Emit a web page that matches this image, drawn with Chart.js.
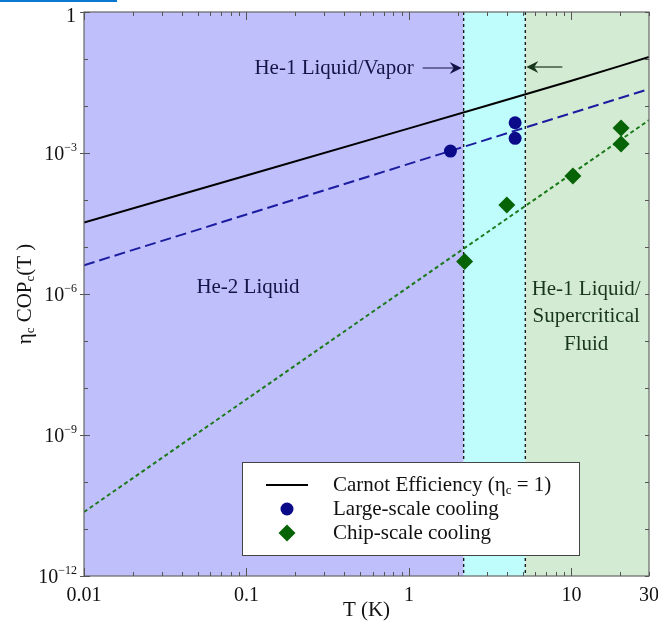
<!DOCTYPE html>
<html><head><meta charset="utf-8">
<script src="https://cdn.jsdelivr.net/npm/chart.js@4.4.0/dist/chart.umd.min.js"></script>
<style>
html,body{margin:0;padding:0;background:#fff;}
#bar{position:absolute;left:0;top:0;width:117px;height:2px;background:#0a78d0;}
canvas{display:block;}
</style>
</head><body><div id="bar"></div><canvas id="c" width="658" height="634"></canvas>
<script>
// ---- data ----
const carnotT   = [0.01, 0.1, 1, 3, 10, 20, 30];
const carnotCOP = [3.33e-5, 3.33e-4, 3.34e-3, 1.01e-2, 3.45e-2, 7.14e-2, 0.111];
const largeFitT   = [0.01, 30];
const largeFitCOP = [4.1e-6, 2.3e-2];
const chipFitT    = [0.01, 30];
const chipFitCOP  = [2.3e-11, 5.0e-3];
const largeT   = [1.8, 4.5, 4.5];
const largeCOP = [1.1e-3, 4.4e-3, 2.05e-3];
const chipT    = [2.2, 4.0, 10.2, 20.2, 20.2];
const chipCOP  = [4.9e-6, 7.8e-5, 3.25e-4, 3.4e-3, 1.55e-3];
const phaseBounds = [0.01, 2.17, 5.2, 30];
const xTickValues = [0.01, 0.1, 1, 10, 30];
const xTickLabels = ['0.01', '0.1', '1', '10', '30'];
const yTickExps   = [0, -3, -6, -9, -12];
const legendLabels = ['Carnot Efficiency', 'Large-scale cooling', 'Chip-scale cooling'];

const pts = (xs, ys) => xs.map((v, i) => ({x: v, y: ys[i]}));
const SERIF = '"Liberation Serif", "Times New Roman", serif';

function drawRich(ctx, parts, x, y, align, size, color) {
  const small = Math.round(size * 0.62);
  let w = 0;
  const m = parts.map(p => {
    ctx.font = (p[1] ? small : size) + 'px ' + SERIF;
    const pw = ctx.measureText(p[0]).width; w += pw; return pw;
  });
  let cx = align === 'right' ? x - w : align === 'center' ? x - w / 2 : x;
  ctx.fillStyle = color; ctx.textAlign = 'left'; ctx.textBaseline = 'middle';
  parts.forEach((p, i) => {
    ctx.font = (p[1] ? small : size) + 'px ' + SERIF;
    const dy = p[1] === 'sub' ? size * 0.25 : p[1] === 'sup' ? -size * 0.36 : 0;
    ctx.fillText(p[0], cx, y + dy);
    cx += m[i];
  });
}

function arrow(ctx, x0, x1, y, color) {
  const dir = Math.sign(x1 - x0);
  ctx.strokeStyle = color; ctx.fillStyle = color; ctx.lineWidth = 1.2; ctx.setLineDash([]);
  ctx.beginPath(); ctx.moveTo(x0, y); ctx.lineTo(x1 - dir * 6, y); ctx.stroke();
  ctx.beginPath();
  ctx.moveTo(x1, y);
  ctx.lineTo(x1 - dir * 12, y - 6);
  ctx.lineTo(x1 - dir * 8, y);
  ctx.lineTo(x1 - dir * 12, y + 6);
  ctx.closePath(); ctx.fill();
}

const deco = {
  id: 'deco',
  beforeDatasetsDraw(chart) {
    const {ctx, chartArea: a, scales: {x, y}} = chart;
    ctx.save();
    const fills = ['#bfbffb', '#bffdfd', '#d3ead3'];
    for (let i = 0; i < 3; i++) {
      const x0 = x.getPixelForValue(phaseBounds[i]), x1 = x.getPixelForValue(phaseBounds[i + 1]);
      ctx.fillStyle = fills[i];
      ctx.fillRect(x0, a.top, x1 - x0, a.bottom - a.top);
    }
    ctx.setLineDash([3, 3]); ctx.lineWidth = 1.4; ctx.strokeStyle = '#1a1a1a';
    [phaseBounds[1], phaseBounds[2]].forEach(v => {
      const px = x.getPixelForValue(v);
      ctx.beginPath(); ctx.moveTo(px, a.top); ctx.lineTo(px, a.bottom); ctx.stroke();
    });
    ctx.setLineDash([]);
    const lam = x.getPixelForValue(phaseBounds[1]);
    const crit = x.getPixelForValue(phaseBounds[2]);
    const navy = '#141447', dgreen = '#17361b';
    drawRich(ctx, [['He-1 Liquid/Vapor']], lam - 50, a.top + 56, 'right', 21, navy);
    arrow(ctx, lam - 41, lam - 2, a.top + 56, navy);
    arrow(ctx, crit + 37, crit + 1, a.top + 55, dgreen);
    drawRich(ctx, [['He-2 Liquid']], a.left + 164, a.top + 275, 'center', 21, navy);
    const cx = (crit + a.right) / 2 - 1;
    drawRich(ctx, [['He-1 Liquid/']], cx, a.top + 277, 'center', 21, dgreen);
    drawRich(ctx, [['Supercritical']], cx, a.top + 304, 'center', 21, dgreen);
    drawRich(ctx, [['Fluid']], cx, a.top + 332, 'center', 21, dgreen);
    ctx.restore();
  },
  afterDatasetsDraw(chart) {
    const {ctx, chartArea: a, scales: {x, y}} = chart;
    const ds = chart.data.datasets;
    ctx.save();
    // legend
    const L = 242, T = 462, W = 337, H = 93;
    ctx.fillStyle = '#fff'; ctx.fillRect(L, T, W, H);
    ctx.strokeStyle = '#444'; ctx.lineWidth = 1; ctx.strokeRect(L + 0.5, T + 0.5, W, H);
    const rows = [T + 23, T + 47, T + 71];
    ctx.strokeStyle = ds[0].borderColor; ctx.lineWidth = 2;
    ctx.beginPath(); ctx.moveTo(L + 24, rows[0]); ctx.lineTo(L + 66, rows[0]); ctx.stroke();
    ctx.fillStyle = ds[3].backgroundColor; ctx.beginPath(); ctx.arc(L + 45, rows[1], ds[3].pointRadius, 0, Math.PI * 2); ctx.fill();
    ctx.fillStyle = ds[4].backgroundColor; ctx.beginPath();
    const r = ds[4].pointRadius, dx = L + 45, dy = rows[2];
    ctx.moveTo(dx - r, dy); ctx.lineTo(dx, dy - r); ctx.lineTo(dx + r, dy); ctx.lineTo(dx, dy + r); ctx.closePath(); ctx.fill();
    drawRich(ctx, [[legendLabels[0] + ' (\u03b7'], ['c', 'sub'], [' = 1)']], L + 91, rows[0], 'left', 21, '#111');
    drawRich(ctx, [[legendLabels[1]]], L + 91, rows[1], 'left', 21, '#111');
    drawRich(ctx, [[legendLabels[2]]], L + 91, rows[2], 'left', 21, '#111');
    // border
    ctx.strokeStyle = '#666'; ctx.lineWidth = 1.2;
    ctx.strokeRect(a.left, a.top, a.right - a.left, a.bottom - a.top);
    // x ticks
    ctx.strokeStyle = '#555'; ctx.lineWidth = 1;
    for (let e = -2; e <= 1; e++) {
      for (let k = 1; k <= 9; k++) {
        const v = k * Math.pow(10, e);
        if (v < 0.01 || v > 30) continue;
        const px = Math.round(x.getPixelForValue(v)) + 0.5;
        const len = k === 1 ? 8 : 4;
        ctx.beginPath();
        ctx.moveTo(px, a.bottom); ctx.lineTo(px, a.bottom - len);
        ctx.moveTo(px, a.top); ctx.lineTo(px, a.top + len);
        ctx.stroke();
      }
    }
    // y ticks
    for (let e = -12; e <= 0; e++) {
      const py = Math.round(y.getPixelForValue(Math.pow(10, e))) + 0.5;
      const major = e % 3 === 0;
      ctx.beginPath();
      ctx.moveTo(a.left - (major ? 4 : 0), py); ctx.lineTo(a.left + (major ? 6 : 4), py);
      ctx.moveTo(a.right, py); ctx.lineTo(a.right - 4, py);
      ctx.stroke();
    }
    // tick labels
    xTickValues.forEach((v, i) => {
      drawRich(ctx, [[xTickLabels[i]]], x.getPixelForValue(v), a.bottom + 20, 'center', 20, '#111');
    });
    yTickExps.forEach(e => {
      const py = y.getPixelForValue(Math.pow(10, e));
      if (e === 0) drawRich(ctx, [['1']], a.left - 8, py + 5, 'right', 20, '#111');
      else drawRich(ctx, [['10'], ['\u2212' + (-e), 'sup']], a.left - 7, py + 2, 'right', 20, '#111');
    });
    // axis titles
    drawRich(ctx, [['T (K)']], (a.left + a.right) / 2, a.bottom + 34, 'center', 21, '#111');
    ctx.translate(25, (a.top + a.bottom) / 2);
    ctx.rotate(-Math.PI / 2);
    drawRich(ctx, [['\u03b7'], ['c', 'sub'], [' COP'], ['c', 'sub'], ['(T )']], 0, 0, 'center', 21, '#111');
    ctx.restore();
  }
};

new Chart(document.getElementById('c'), {
  type: 'scatter',
  data: {
    datasets: [
      {label: legendLabels[0], data: pts(carnotT, carnotCOP), showLine: true, borderColor: '#000', borderWidth: 2, pointRadius: 0, order: 3},
      {label: 'Large-scale fit', data: pts(largeFitT, largeFitCOP), showLine: true, borderColor: '#1c1ca0', borderWidth: 2, borderDash: [11, 5], pointRadius: 0, order: 2},
      {label: 'Chip-scale fit', data: pts(chipFitT, chipFitCOP), showLine: true, borderColor: '#1a7a1a', borderWidth: 2, borderDash: [4, 3], pointRadius: 0, order: 1},
      {label: legendLabels[1], data: pts(largeT, largeCOP), showLine: false, pointStyle: 'circle', pointRadius: 6.5, backgroundColor: '#0b0b8a', borderWidth: 0, order: 0},
      {label: legendLabels[2], data: pts(chipT, chipCOP), showLine: false, pointStyle: 'rectRot', pointRadius: 8.5, backgroundColor: '#066406', borderWidth: 0, order: 0}
    ]
  },
  options: {
    responsive: false, animation: false, devicePixelRatio: 1,
    layout: {padding: {left: 84, right: 9, top: 12, bottom: 58}},
    plugins: {legend: {display: false}, tooltip: {enabled: false}},
    scales: {
      x: {type: 'logarithmic', min: 0.01, max: 30, display: false},
      y: {type: 'logarithmic', min: 1e-12, max: 1, display: false}
    }
  },
  plugins: [deco]
});
</script>
</body></html>
